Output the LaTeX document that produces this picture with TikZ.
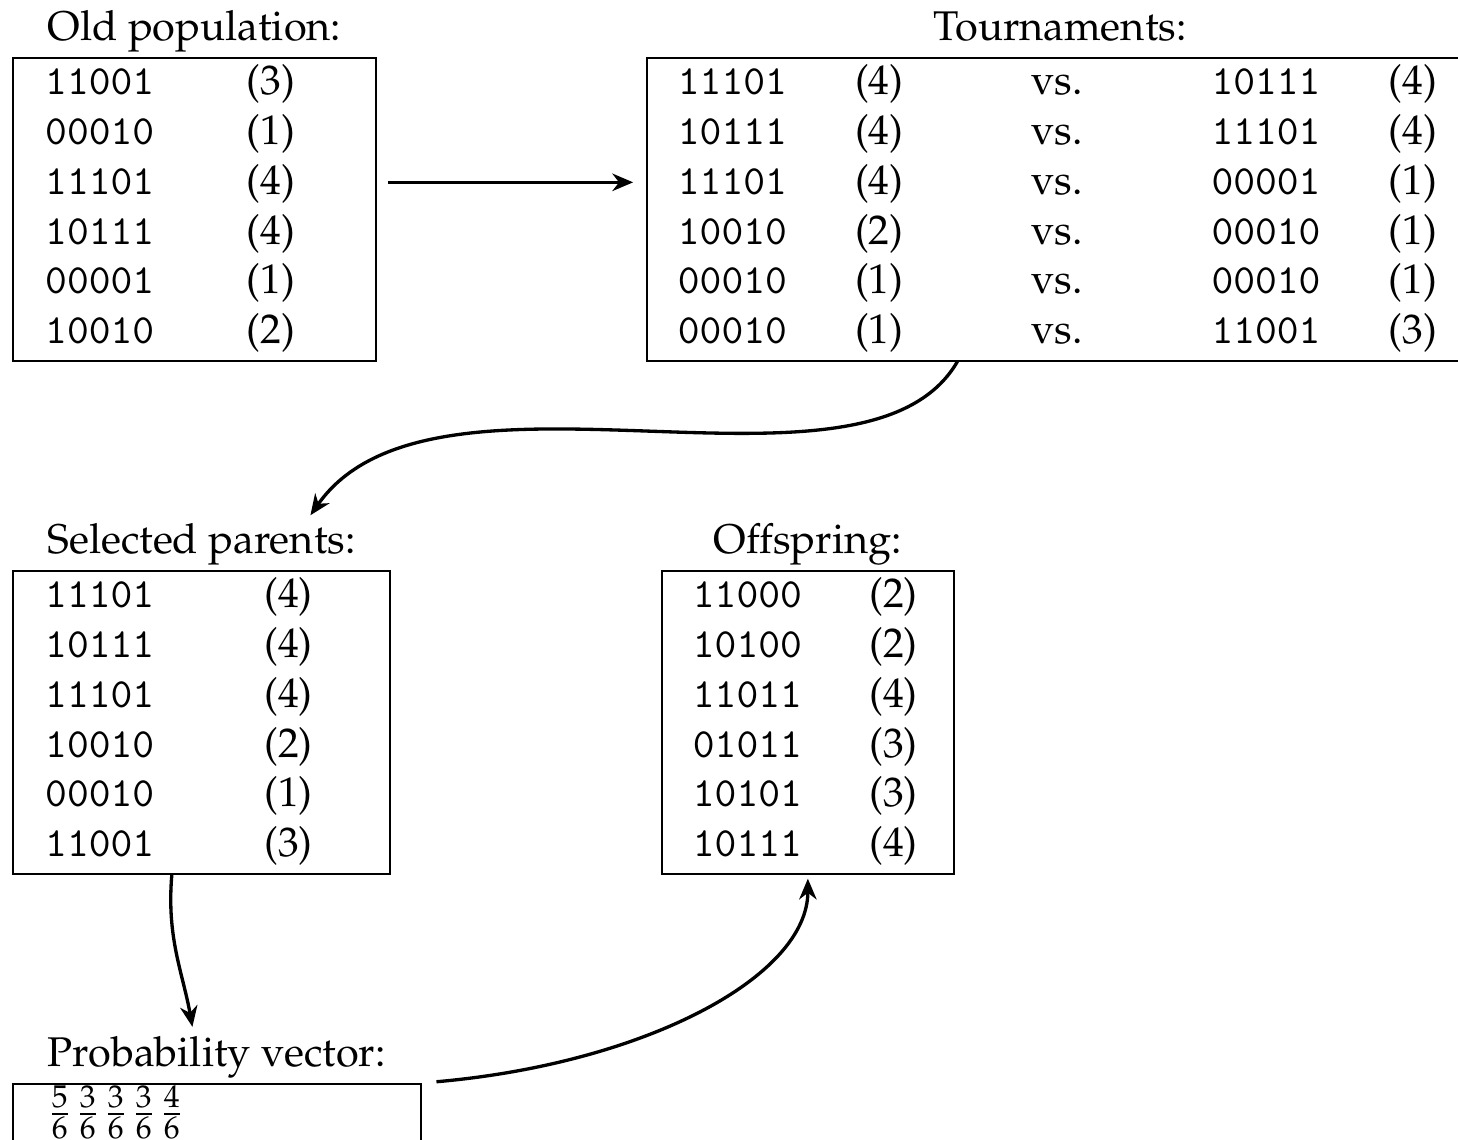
\documentclass[tikz,border=0pt]{standalone}
\usepackage[OT1]{fontenc}
\usepackage{mathpazo}
\renewcommand{\ttdefault}{cmtt}
\usepackage{array}
\usetikzlibrary{positioning,arrows.meta}

\tikzset{
    popbox/.style={draw, line width=0.4pt, inner xsep=0pt, inner ysep=0.5pt, anchor=north west},
    boxtitle/.style={inner sep=0pt, text depth=0pt},
    flow/.style={thick, -{Stealth[length=5pt,width=4.2pt,inset=1.6pt]}}
}

\begin{document}
\begin{tikzpicture}
    \useasboundingbox (0,0) rectangle (12.350,9.648);
    \clip (0,0) rectangle (12.350,9.648);

    % old population
    \node[popbox] (old) at (0.102,9.165) {%
        \begin{tabular}{@{\hspace{7.8pt}}>{\ttfamily}p{48.5pt}@{}p{31.2pt}@{}}
            11001 & (3)\\
            00010 & (1)\\
            11101 & (4)\\
            10111 & (4)\\
            00001 & (1)\\
            10010 & (2)
        \end{tabular}};
    \node[boxtitle, above=3.7pt of old] (oldT) {Old population:};

    % tournaments
    \node[popbox] (tourn) at (5.472,9.165) {%
        \begin{tabular}{@{\hspace{7.5pt}}>{\ttfamily}p{42.7pt}@{}p{42.4pt}@{}p{43.5pt}@{}>{\ttfamily}p{42.7pt}@{}p{20.4pt}@{}}
            11101 & (4) & vs. & 10111 & (4)\\
            10111 & (4) & vs. & 11101 & (4)\\
            11101 & (4) & vs. & 00001 & (1)\\
            10010 & (2) & vs. & 00010 & (1)\\
            00010 & (1) & vs. & 00010 & (1)\\
            00010 & (1) & vs. & 11001 & (3)
        \end{tabular}};
    \node[boxtitle, above=3.7pt of tourn] (tournT) {Tournaments:};

    % selected parents
    \node[popbox] (sel) at (0.102,4.820) {%
        \begin{tabular}{@{\hspace{7.8pt}}>{\ttfamily}p{52.8pt}@{}p{30.3pt}@{}}
            11101 & (4)\\
            10111 & (4)\\
            11101 & (4)\\
            10010 & (2)\\
            00010 & (1)\\
            11001 & (3)
        \end{tabular}};
    \node[boxtitle, above=3.7pt of sel] (selT) {Selected parents:};

    % offspring
    \node[popbox] (off) at (5.599,4.820) {%
        \begin{tabular}{@{\hspace{7.5pt}}>{\ttfamily}p{42.5pt}@{}p{20.4pt}@{}}
            11000 & (2)\\
            10100 & (2)\\
            11011 & (4)\\
            01011 & (3)\\
            10101 & (3)\\
            10111 & (4)
        \end{tabular}};
    \node[boxtitle, above=3.7pt of off] (offT) {Offspring:};

    % probability vector
    \node[popbox] (prob) at (0.102,0.474) {%
        \begin{tabular}{@{\hspace{8.2pt}}p{90.1pt}@{}}
            $\frac56\mskip1mu\frac36\mskip1mu\frac36\mskip1mu\frac36\mskip1mu\frac46$
        \end{tabular}};
    \node[boxtitle, above=3.7pt of prob] (probT) {Probability vector:};

    \draw[flow, shorten <=2.6pt, shorten >=3.1pt]
        ([yshift=6.5pt]old.east) -- ([yshift=6.5pt]tourn.west);
    \draw[flow, shorten >=2.2pt]
        (tourn.-124) to[out=-120, in=55, out looseness=0.7, in looseness=0.85] ([xshift=25pt]selT.north);
    \draw[flow, shorten >=2.2pt]
        (sel.-101) to[out=-95, in=100] ([xshift=-5.5pt]probT.north);
    \draw[flow, shorten <=3.6pt, shorten >=1pt]
        (prob.north east) to[out=5, in=-90, out looseness=1.3, in looseness=0.6] (off.south);

\end{tikzpicture}
\end{document}
